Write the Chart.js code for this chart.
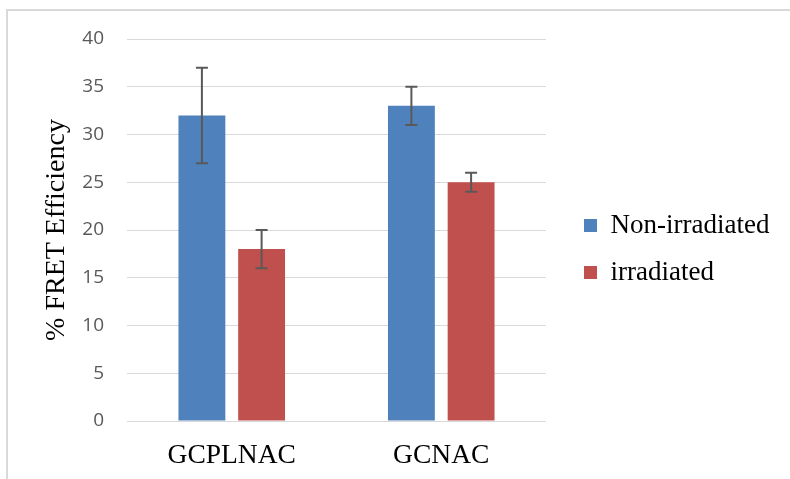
<!DOCTYPE html>
<html>
<head>
<meta charset="utf-8">
<script src="https://cdn.jsdelivr.net/npm/chart.js@4"></script>
<style>
  html, body { margin: 0; padding: 0; background: #ffffff; }
  #wrap { position: relative; width: 790px; height: 479px; overflow: hidden; }
  #frame { position: absolute; left: 6px; top: 9px; width: 800px; height: 500px;
           border-top: 2px solid #d9d9d9; border-left: 2px solid #d9d9d9; pointer-events: none; }
  canvas { position: absolute; left: 0; top: 0; }
</style>
</head>
<body>
<div id="wrap">
  <canvas id="c" width="790" height="479"></canvas>
  <div id="frame"></div>
</div>
<script>
// ---- data ----
const categories = ["GCPLNAC", "GCNAC"];
const seriesNames = ["Non-irradiated", "irradiated"];
const nonIrradiated = [32, 33];
const irradiated = [18, 25];
const nonIrradiatedErr = [5, 2];
const irradiatedErr = [2, 1];
const yTicks = [0, 5, 10, 15, 20, 25, 30, 35, 40];

const serif = "'Liberation Serif', 'Times New Roman', serif";
const sans = "'Open Sans', 'Noto Sans', sans-serif";

const errorBars = {
  id: 'errorBars',
  afterDatasetsDraw(chart) {
    const ctx = chart.ctx;
    const yScale = chart.scales.y;
    ctx.save();
    ctx.strokeStyle = '#595959';
    ctx.lineWidth = 2;
    chart.data.datasets.forEach((ds, di) => {
      const meta = chart.getDatasetMeta(di);
      meta.data.forEach((bar, i) => {
        const v = ds.data[i], e = ds.errors[i];
        const x = bar.x;
        const yTop = yScale.getPixelForValue(v + e);
        const yBot = yScale.getPixelForValue(v - e);
        const cap = 6;
        ctx.beginPath();
        ctx.moveTo(x, yTop); ctx.lineTo(x, yBot);
        ctx.moveTo(x - cap, yTop); ctx.lineTo(x + cap, yTop);
        ctx.moveTo(x - cap, yBot); ctx.lineTo(x + cap, yBot);
        ctx.stroke();
      });
    });
    ctx.restore();
  }
};

const legendNudge = {
  id: 'legendNudge',
  afterLayout(chart) {
    const l = chart.legend;
    if (!l) return;
    const dx = 18, dy = -10;
    l.left += dx;
    l.right = chart.width;
    l.width = l.right - l.left;
    l.top += dy; l.bottom += dy;
  }
};

new Chart(document.getElementById('c'), {
  type: 'bar',
  data: {
    labels: categories,
    datasets: [
      { label: seriesNames[0], data: nonIrradiated, errors: nonIrradiatedErr,
        backgroundColor: '#4F81BD', borderWidth: 0 },
      { label: seriesNames[1], data: irradiated, errors: irradiatedErr,
        backgroundColor: '#C0504D', borderWidth: 0 }
    ]
  },
  options: {
    responsive: false,
    animation: false,
    devicePixelRatio: 1,
    categoryPercentage: 0.57,
    barPercentage: 0.785,
    layout: { padding: { top: 39, left: 0, right: 62, bottom: 0 } },
    plugins: {
      tooltip: { enabled: false },
      legend: {
        position: 'right',
        align: 'center',
        labels: {
          boxWidth: 13, boxHeight: 13, padding: 20,
          color: '#000000',
          font: { family: serif, size: 27 }
        }
      }
    },
    scales: {
      x: {
        grid: { display: false, drawTicks: false },
        border: { display: false },
        ticks: { color: '#000000', font: { family: serif, size: 27.5 }, padding: 18 },
        afterFit(scale) { scale.height = 58; }
      },
      y: {
        min: 0, max: 40,
        afterBuildTicks(scale) { scale.ticks = yTicks.map(v => ({ value: v })); },
        grid: { color: '#d9d9d9', lineWidth: 1, drawTicks: false },
        border: { display: false },
        ticks: { color: '#595959', font: { family: sans, size: 19 }, padding: 23 },
        title: {
          display: true, text: '% FRET Efficiency', color: '#000000',
          font: { family: serif, size: 28 }, padding: { top: 40, bottom: 0 }
        },
        afterFit(scale) { scale.width = 127; }
      }
    }
  },
  plugins: [errorBars, legendNudge]
});
</script>
</body>
</html>
